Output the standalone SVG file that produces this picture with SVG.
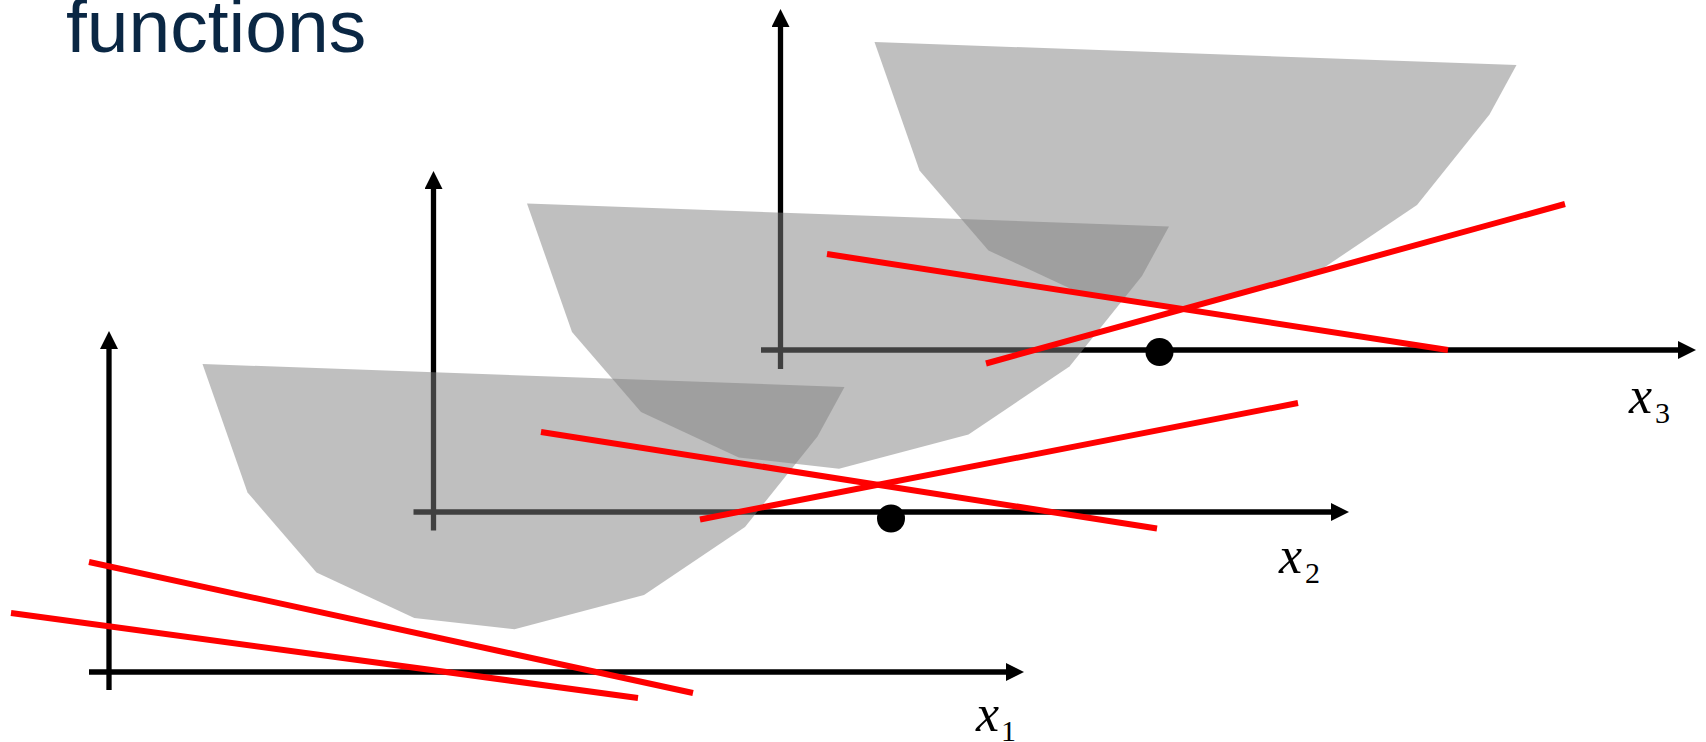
<svg xmlns="http://www.w3.org/2000/svg" xmlns:xlink="http://www.w3.org/1999/xlink" width="1706" height="742" viewBox="0 0 1706 742">
  <style>
    .axis { fill: none; stroke: #000; stroke-width: 5.3; marker-end: url(#arrow); }
    .tick { fill: none; stroke: #000; stroke-width: 5.3; }
    .bowl { fill: #7f7f7f; fill-opacity: 0.5; stroke: none; }
    .fit { stroke: #ff0000; stroke-width: 6; stroke-linecap: butt; fill: none; }
    .dot { fill: #000; }
    .title { font-family: "Liberation Sans", Arial, sans-serif; font-size: 75px; fill: #0a2744; }
    .var { font-family: "Liberation Serif", "Times New Roman", serif; font-style: italic; font-size: 52px; fill: #000; }
    .sub { font-family: "Liberation Serif", "Times New Roman", serif; font-size: 30px; fill: #000; }
  </style>
  <defs>
    <marker id="arrow" markerUnits="userSpaceOnUse" markerWidth="18" markerHeight="18" viewBox="0 0 18 18" refX="1" refY="9" orient="auto">
      <path d="M0,0 L18,9 L0,18 z" fill="#000"/>
    </marker>
    <polygon id="bowlShape" points="202.5,364 844.5,387 817.5,436.5 745,527 644,595 514.5,629.3 414.3,618 316.5,572.5 247.5,492.5"/>
  </defs>

  <rect width="1706" height="742" fill="#fff"/>

  <g id="title">
    <text class="title" x="66" y="52">functions</text>
  </g>

  <g id="axes">
    <g id="axes-x1">
      <path class="axis" d="M109,690 V348"/>
      <path class="axis" d="M89,672 H1007"/>
    </g>
    <g id="axes-x2">
      <path class="axis" d="M433.5,530.5 V188"/>
      <path class="axis" d="M413.5,512 H1332"/>
    </g>
    <g id="axes-x3">
      <path class="axis" d="M780.5,369 V26"/>
      <path class="axis" d="M761,350 H1679"/>
    </g>
  </g>

  <g id="bowls">
    <use id="bowl-x1" xlink:href="#bowlShape" href="#bowlShape" class="bowl"/>
    <use id="bowl-x2" xlink:href="#bowlShape" href="#bowlShape" class="bowl" transform="translate(324.5,-160.5)"/>
    <use id="bowl-x3" xlink:href="#bowlShape" href="#bowlShape" class="bowl" transform="translate(672,-322)"/>
  </g>

  <g id="connectors">
    <line class="fit" x1="89" y1="562" x2="693" y2="693"/>
    <line class="fit" x1="11" y1="613" x2="638" y2="698"/>
    <line class="fit" x1="541" y1="432" x2="1157" y2="528.5"/>
    <line class="fit" x1="700" y1="519.5" x2="1298" y2="403"/>
    <line class="fit" x1="827" y1="254" x2="1448" y2="350"/>
    <line class="fit" x1="986" y1="363.5" x2="1565" y2="204"/>
  </g>

  <g id="points">
    <circle class="dot" cx="891" cy="518.5" r="14"/>
    <circle class="dot" cx="1159.5" cy="352" r="14"/>
  </g>

  <g id="labels">
    <g id="label-x1">
      <text class="var" x="976" y="731">x</text>
      <text class="sub" x="1001" y="741">1</text>
    </g>
    <g id="label-x2">
      <text class="var" x="1279" y="573">x</text>
      <text class="sub" x="1305" y="583">2</text>
    </g>
    <g id="label-x3">
      <text class="var" x="1629" y="413">x</text>
      <text class="sub" x="1655" y="423">3</text>
    </g>
  </g>
</svg>
